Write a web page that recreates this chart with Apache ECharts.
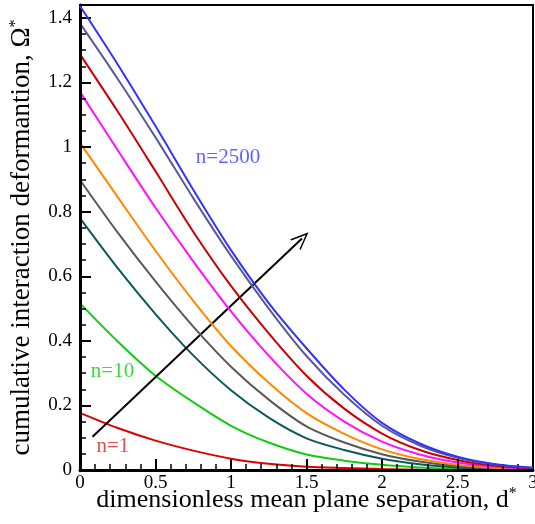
<!DOCTYPE html>
<html>
<head>
<meta charset="utf-8">
<script src="https://cdn.jsdelivr.net/npm/echarts@6/dist/echarts.min.js"></script>
<style>
  html, body { margin: 0; padding: 0; background: #fff; }
  #chart { width: 535px; height: 524px; }
</style>
</head>
<body>
<div id="chart"></div>
<script>
// separation values d*
var sep = [0, 0.25, 0.5, 0.75, 1.0, 1.25, 1.5, 1.75, 2.0, 2.25, 2.5, 2.75, 3.0];

// Omega*, from n=1 (bottom) up to n=2500 (top)
var redN1    = [0.177, 0.130, 0.091, 0.060, 0.035, 0.019, 0.010, 0.006, 0.003, 0.001, 0, 0, 0];
var greenN10 = [0.516, 0.398, 0.292, 0.210, 0.137, 0.085, 0.048, 0.029, 0.016, 0.008, 0.003, 0.001, 0];
var tealC    = [0.780, 0.625, 0.483, 0.355, 0.247, 0.162, 0.098, 0.062, 0.035, 0.018, 0.008, 0.003, 0.001];
var grayC    = [0.898, 0.735, 0.584, 0.444, 0.320, 0.218, 0.135, 0.085, 0.049, 0.026, 0.012, 0.005, 0.002];
var orangeC  = [1.013, 0.845, 0.679, 0.524, 0.384, 0.270, 0.176, 0.112, 0.064, 0.034, 0.016, 0.007, 0.002];
var magentaC = [1.171, 0.990, 0.812, 0.646, 0.491, 0.354, 0.236, 0.150, 0.088, 0.048, 0.023, 0.010, 0.004];
var darkredC = [1.287, 1.110, 0.925, 0.738, 0.570, 0.423, 0.292, 0.190, 0.113, 0.062, 0.031, 0.013, 0.005];
var slateC   = [1.383, 1.211, 1.030, 0.842, 0.663, 0.500, 0.353, 0.233, 0.137, 0.076, 0.038, 0.017, 0.006];
var blueN2500 = [1.437, 1.256, 1.065, 0.868, 0.681, 0.517, 0.377, 0.249, 0.146, 0.082, 0.041, 0.018, 0.007];

var arrowStart = [0.083, 0.103];
var arrowEnd = [1.47, 0.717];

var xTicks = ['0', '0.5', '1', '1.5', '2', '2.5', '3'];

var curves = [
    { name: 'n=1', data: redN1, color: '#dd0000' },
    { name: 'n=10', data: greenN10, color: '#11cc11' },
    { name: 'c3', data: tealC, color: '#0a5a5a' },
    { name: 'c4', data: grayC, color: '#595959' },
    { name: 'c5', data: orangeC, color: '#ff8800' },
    { name: 'c6', data: magentaC, color: '#ff11ff' },
    { name: 'c7', data: darkredC, color: '#cc0000' },
    { name: 'c8', data: slateC, color: '#5a5a9a' },
    { name: 'n=2500', data: blueN2500, color: '#3333ff' }
];

var chart = echarts.init(document.getElementById('chart'));
var serif = 'Liberation Serif';

var series = [];
for (var i = 0; i < curves.length; i++) {
    var pts = [];
    for (var j = 0; j < sep.length; j++) {
        pts.push([sep[j], curves[i].data[j]]);
    }
    series.push({
        name: curves[i].name,
        type: 'line',
        data: pts,
        smooth: 0.3,
        symbol: 'none',
        lineStyle: { color: curves[i].color, width: 2 },
        z: 2 + i
    });
}

// arrow
series.push({
    type: 'line',
    data: [],
    markLine: {
        silent: true,
        symbol: ['none', 'path://M0,14 L7,0 L14,14 L12.5,14 L7,3 L1.5,14 Z'],
        symbolSize: [15, 18],
        label: { show: false },
        lineStyle: { color: '#000', width: 2, type: 'solid' },
        data: [[{ coord: arrowStart }, { coord: arrowEnd }]]
    },
    z: 20
});

// curve labels
var tags = [
    { text: 'n=2500', pos: [0.98, 0.968], color: '#3a3aff' },
    { text: 'n=10', pos: [0.215, 0.304], color: '#11cc11' },
    { text: 'n=1', pos: [0.218, 0.072], color: '#dd2222' }
];
series.push({
    type: 'scatter',
    symbolSize: 0,
    silent: true,
    data: tags.map(function (t) {
        return {
            value: t.pos,
            label: { show: true, position: 'inside', formatter: t.text, color: t.color, fontFamily: serif, fontSize: 21 }
        };
    }),
    z: 30
});

var option = {
    animation: false,
    grid: {
        left: 80, right: 2, top: 5, bottom: 54,
        containLabel: false,
        outerBoundsMode: 'none',
        show: true, borderColor: '#000', borderWidth: 2
    },
    xAxis: {
        type: 'value',
        z: 10,
        min: 0, max: 3, interval: 0.5,
        name: '{a|dimensionless mean plane separation, d}{s|*}',
        nameLocation: 'middle',
        nameMoveOverlap: false,
        nameGap: 16,
        nameTextStyle: {
            rich: {
                a: { fontFamily: serif, fontSize: 26, color: '#000' },
                s: { fontFamily: serif, fontSize: 16, color: '#000', verticalAlign: 'top', padding: [0, 0, 12, 0] }
            }
        },
        axisLine: { show: true, onZero: false, lineStyle: { color: '#000', width: 3 } },
        axisTick: { show: true, inside: true, length: 11, lineStyle: { color: '#000', width: 2 } },
        minorTick: { show: true, splitNumber: 5, length: 6, lineStyle: { color: '#000', width: 1.5 } },
        splitLine: { show: false },
        axisLabel: {
            fontFamily: serif, fontSize: 19, color: '#000', margin: 4,
            formatter: function (v) { return xTicks[Math.round(v / 0.5)]; }
        }
    },
    yAxis: {
        type: 'value',
        z: 10,
        min: 0, max: 1.44, interval: 0.2,
        name: '{a|cumulative interaction deformantion, Ω}{s|*}',
        nameLocation: 'middle',
        nameGap: 44,
        nameTextStyle: {
            rich: {
                a: { fontFamily: serif, fontSize: 27, color: '#000' },
                s: { fontFamily: serif, fontSize: 16, color: '#000', verticalAlign: 'top', padding: [0, 0, 12, 0] }
            }
        },
        axisLine: { show: true, onZero: false, lineStyle: { color: '#000', width: 3 } },
        axisTick: { show: true, inside: true, length: 11, lineStyle: { color: '#000', width: 2 } },
        minorTick: { show: true, splitNumber: 4, length: 6, lineStyle: { color: '#000', width: 1.5 } },
        splitLine: { show: false },
        axisLabel: {
            fontFamily: serif, fontSize: 19, color: '#000', margin: 8, showMaxLabel: false,
            formatter: function (v) {
                if (Math.abs(v / 0.2 - Math.round(v / 0.2)) > 1e-6) return '';
                return String(Math.round(v * 10) / 10);
            }
        }
    },
    series: series
};

chart.setOption(option);
</script>
</body>
</html>
